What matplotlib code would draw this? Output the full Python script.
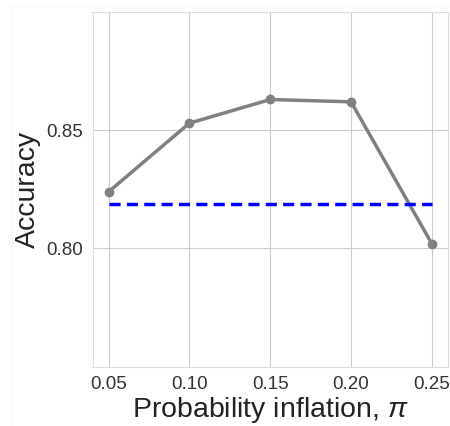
import matplotlib
matplotlib.use("Agg")
import matplotlib.pyplot as plt
from matplotlib.lines import Line2D
import seaborn as sns

sns.set_style("whitegrid")
plt.rcParams['font.family'] = ['Liberation Sans', 'DejaVu Sans']
plt.rcParams['mathtext.fontset'] = 'custom'
plt.rcParams['mathtext.it'] = 'Liberation Sans:italic'
plt.rcParams['mathtext.rm'] = 'Liberation Sans'

pi_values = [0.05, 0.10, 0.15, 0.20, 0.25]
accuracy = [0.824, 0.853, 0.863, 0.862, 0.802]
baseline = 0.819
xtick_labels = ["0.05", "0.10", "0.15", "0.20", "0.25"]
yticks = [0.80, 0.85]

W, H = 450, 426
fig = plt.figure(figsize=(W/100, H/100), dpi=100)
ax = fig.add_axes([92.5/W, 1 - 366.7/H, (448 - 92.5)/W, (366.7 - 12)/H])

# faint outer frame seen in the reference
fig.add_artist(Line2D([12/W, 12/W], [0, 1 - 6/H], color="#f7f7f7", lw=1))
fig.add_artist(Line2D([12/W, 1], [1 - 6/H, 1 - 6/H], color="#f7f7f7", lw=1))

ax.plot(pi_values, accuracy, color="gray", linewidth=2.5, marker="o", markersize=6)
ax.plot([pi_values[0], pi_values[-1]], [baseline, baseline], color="blue",
        linestyle=(0, (3.2, 1.8)), linewidth=2.5)

ax.set_xlim(0.04, 0.26)
ax.set_ylim(0.75, 0.90)
ax.set_xticks(pi_values)
ax.set_xticklabels(xtick_labels)
ax.set_yticks(yticks)
ax.set_yticklabels([f"{v:.2f}" for v in yticks])
ax.tick_params(axis="both", length=0, labelsize=13.5, colors="#333333", pad=6.5)
ax.set_xlabel(r"Probability inflation, $\pi$", fontsize=20.5, color="#222222", labelpad=1.5)
ax.set_ylabel("Accuracy", fontsize=20.5, color="#222222", labelpad=4)
for s in ax.spines.values():
    s.set_color("#dddddd")

fig.savefig("out.png", dpi=100)
